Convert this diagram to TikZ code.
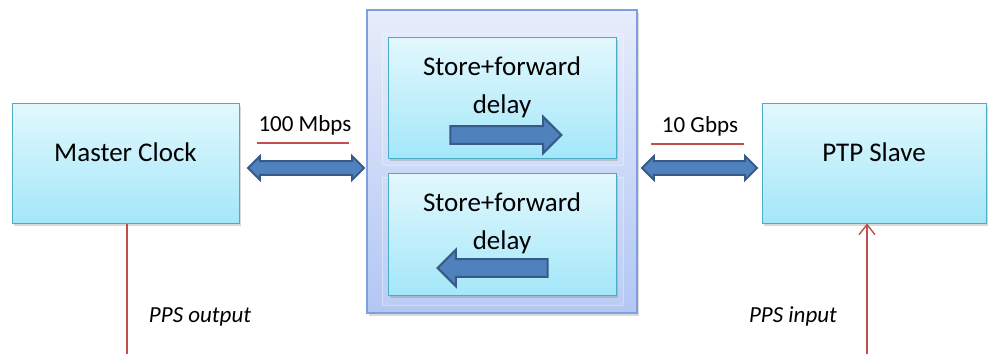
\documentclass[tikz,border=0pt]{standalone}
\usepackage{fontspec}
\setmainfont{Carlito}
\usetikzlibrary{shapes.arrows,shadows,arrows.meta,calc}
\definecolor{boxtop}{HTML}{E3F8FD}
\definecolor{boxbot}{HTML}{A3E7F9}
\definecolor{boxline}{HTML}{4BACC6}
\definecolor{outtop}{HTML}{E6ECFB}
\definecolor{outbot}{HTML}{B3C7F4}
\definecolor{outline}{HTML}{7F9FE0}
\definecolor{arrfill}{HTML}{4F81BD}
\definecolor{arrline}{HTML}{375A87}
\definecolor{redline}{HTML}{C0504D}
\begin{document}
\begin{tikzpicture}[x=1pt,y=-1pt,
  box/.style={rectangle, draw=boxline, line width=1pt, top color=boxtop, bottom color=boxbot, inner sep=0pt,
    drop shadow={shadow xshift=2pt,shadow yshift=-2.5pt,opacity=0.3}},
  outerbox/.style={rectangle, draw=outline, line width=1.2pt, top color=outtop, bottom color=outbot, inner sep=0pt,
    drop shadow={shadow xshift=2pt,shadow yshift=-2.5pt,opacity=0.3}},
  panel/.style={rectangle, draw=white, draw opacity=0.35, fill=white, fill opacity=0.1, line width=0.8pt, inner sep=0pt},
  bigtext/.style={font=\fontsize{27}{38}\selectfont, align=center, inner sep=0pt},
  ratetext/.style={font=\fontsize{23}{28}\selectfont, inner sep=0pt},
  ppstext/.style={font=\fontsize{23}{28}\selectfont\itshape, inner sep=0pt},
  darrow/.style={double arrow, draw=arrline, fill=arrfill, line width=2pt, inner sep=5.8pt, minimum width=0pt,
    double arrow head extend=5pt, double arrow tip angle=90},
  sarrow/.style={single arrow, draw=arrline, fill=arrfill, line width=2pt, inner sep=7.8pt, minimum width=0pt,
    single arrow head extend=9.5pt, single arrow tip angle=90},
  rateline/.style={draw=redline, line width=1.2pt},
  ppsline/.style={draw=redline, line width=1.4pt}
]
\useasboundingbox (0,0) rectangle (988,354);

% outer middle container
\node[outerbox, minimum width=270pt, minimum height=303pt] (mid) at (502,161.5) {};
\node[panel, minimum width=241pt, minimum height=132pt] (p1) at (502.5,99) {};
\node[panel, minimum width=241pt, minimum height=128pt] (p2) at (502.5,241) {};

% inner store+forward boxes
\node[box, minimum width=228pt, minimum height=121pt] (sf1) at (502,97.5) {};
\node[box, minimum width=228pt, minimum height=122pt] (sf2) at (502,234) {};
\node[bigtext] (t1) at ($(sf1.center)+(0,-10.5)$) {Store+forward\\delay};
\node[bigtext] (t2) at ($(sf2.center)+(0,-11)$) {Store+forward\\delay};
\node[sarrow, minimum height=111pt] (a1) at (501.5,135) {};
\node[sarrow, minimum height=110pt, shape border rotate=180] (a2) at (497,268) {};

% end boxes
\node[box, minimum width=227pt, minimum height=120pt] (mc) at (125.5,163) {};
\node[bigtext] (mct) at ($(mc.center)+(0,-11)$) {Master Clock};
\node[box, minimum width=224pt, minimum height=120pt] (ps) at (874,163) {};
\node[bigtext] (pst) at ($(ps.center)+(0,-11)$) {PTP Slave};

% link arrows
\node[darrow, minimum height=116pt] (l1) at (306,168) {};
\node[darrow, minimum height=115pt] (l2) at (699.5,168) {};

% rate labels
\node[ratetext] (r1) at (305,125) {100 Mbps};
\node[ratetext] (r2) at (700,126) {10 Gbps};
\draw[rateline] (257,143) -- (349,143);
\draw[rateline] (651,144) -- (744,144);

% PPS lines
\coordinate (mcb) at (127,354);
\coordinate (psb) at (867,354);
\draw[ppsline] (mc.south -| mcb) -- (mcb);
\draw[ppsline, -{Straight Barb[length=10pt,width=16pt,line width=1.4pt]}] (psb) -- (ps.south -| psb);
\node[ppstext] (po) at (200,317) {PPS output};
\node[ppstext] (pi) at (793,316) {PPS input};
\end{tikzpicture}
\end{document}
